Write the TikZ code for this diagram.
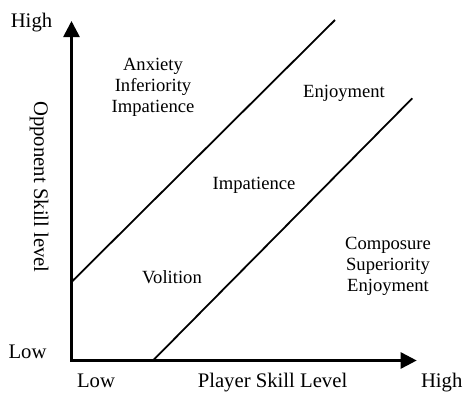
\documentclass[tikz,border=0pt]{standalone}
\usepackage{fontspec}
\setmainfont{Liberation Serif}
\usetikzlibrary{arrows.meta}

\begin{document}
\begin{tikzpicture}[x=1pt,y=-1pt,
  axis/.style={line width=2.7pt,{Triangle[length=16pt,width=16pt]}-{Triangle[length=16pt,width=16pt]}},
  divide/.style={line width=1.8pt},
  axislabel/.style={inner sep=0pt,anchor=base,font=\fontsize{20.7}{24}\selectfont},
  region/.style={inner sep=0pt,anchor=north,align=center,font=\fontsize{18.6}{21.3}\selectfont}]
  \useasboundingbox (0,0) rectangle (464,394);
  \coordinate (origin) at (71.5,360.5);
  \coordinate (ytip) at (71.5,21);
  \coordinate (xtip) at (416.7,360.5);
  \draw[axis] (ytip) -- (origin) -- (xtip);

  \coordinate (upper start) at (71.5,282);
  \coordinate (upper end) at (335,20);
  \coordinate (lower start) at (153,360.5);
  \coordinate (lower end) at (412.3,98.3);
  \draw[divide] (upper start) -- (upper end);
  \draw[divide] (lower start) -- (lower end);

  \node[axislabel] (y high) at (31.5,27.5) {High};
  \node[axislabel] (y low) at (27.5,358) {Low};
  \node[axislabel] (x low) at (96,387) {Low};
  \node[axislabel] (x title) at (272.5,387.5) {Player Skill Level};
  \node[axislabel] (x high) at (441.7,387) {High};
  \node[axislabel,anchor=center,rotate=-90] (y title) at (39,187) {Opponent Skill level};

  \node[region] (anxiety) at (153,57.5) {Anxiety\\Inferiority\\Impatience};
  \node[region] (flow top) at (344,85) {Enjoyment};
  \node[region] (flow) at (254,177) {Impatience};
  \node[region] (volition) at (172,270) {Volition};
  \node[region] (composure) at (388,236.5) {Composure\\Superiority\\Enjoyment};
\end{tikzpicture}
\end{document}
